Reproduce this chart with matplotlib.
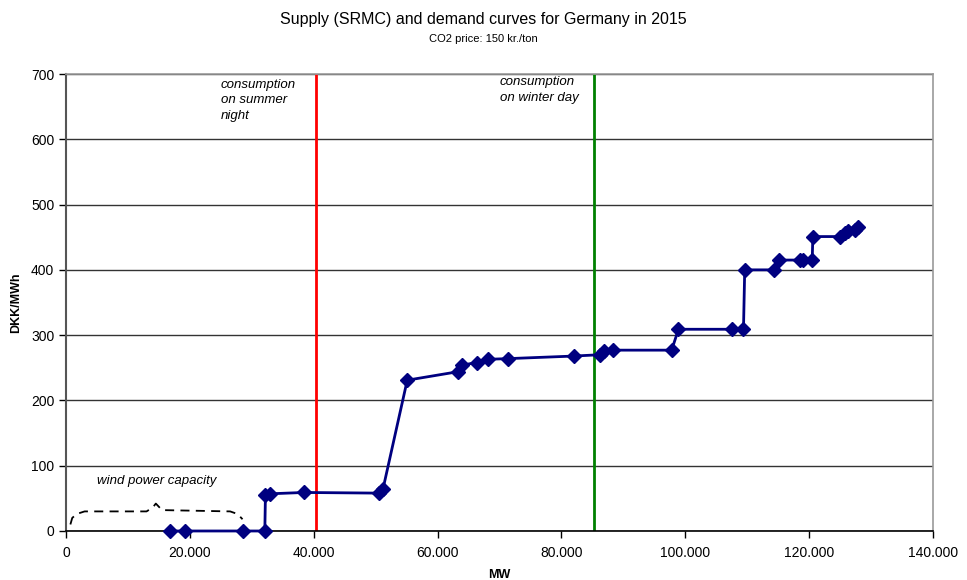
import matplotlib
matplotlib.use("Agg")
import matplotlib.pyplot as plt
from matplotlib.ticker import FuncFormatter, MultipleLocator

plt.rcParams['font.family'] = ['Liberation Sans', 'DejaVu Sans']

# Supply curve (MW, DKK/MWh)
mw = [16800, 19200, 28600, 32100, 32200, 33000, 38400, 50600, 51200, 55100,
      63300, 63900, 66300, 68100, 71300, 82100, 86200, 86800, 88300, 97800,
      98900, 107600, 109400, 109600, 114400, 115200, 118500, 119000, 120500,
      120600, 125000, 125800, 126300, 127400, 127900]
price = [0, 0, 0, 0, 55, 57, 59, 58, 65, 231,
         244, 254, 258, 263, 264, 268, 270, 275, 277, 277,
         309, 309, 309, 400, 400, 415, 415, 415, 415,
         451, 451, 456, 460, 461, 465]

summer_night = 40400
winter_day = 85300

# wind capacity brace (data coords)
brace_x = [700, 1000, 1700, 3000, 13000, 14000, 14500, 15500, 26500, 27700, 28500]
brace_y = [10, 20, 26, 30, 30, 36, 42, 32, 30, 26, 18]

fig = plt.figure(figsize=(9.67, 5.8), dpi=100)
ax = fig.add_axes([0.0683, 0.0845, 0.8965, 0.7879])

ax.set_xlim(0, 140000)
ax.set_ylim(0, 700)
ax.yaxis.set_major_locator(MultipleLocator(100))
ax.xaxis.set_major_locator(MultipleLocator(20000))
ax.xaxis.set_major_formatter(FuncFormatter(lambda v, p: f"{int(v):,}".replace(",", ".")))
ax.grid(axis='y', color='#333333', linewidth=1.0)
ax.set_axisbelow(True)

for s in ['top', 'right']:
    ax.spines[s].set_color('#999999')
    ax.spines[s].set_linewidth(1.2)
ax.spines['left'].set_color('#555555')
ax.spines['left'].set_linewidth(1.5)
ax.spines['bottom'].set_color('black')
ax.spines['bottom'].set_linewidth(1.2)
ax.tick_params(axis='both', direction='out', length=5, width=1, labelsize=10, colors='black')
ax.tick_params(axis='x', pad=6)

ax.axvline(summer_night, color='#ff0000', linewidth=2)
ax.axvline(winter_day, color='#008000', linewidth=2)

ax.plot(mw, price, color='#000080', linewidth=2, marker='D', markersize=7,
        markeredgecolor='#000080', markerfacecolor='#000080', zorder=5, clip_on=False)

ax.plot(brace_x, brace_y, color='black', linestyle=(0, (5, 3.5)), linewidth=1.3)

ax.text(5000, 76, 'wind power capacity', fontsize=9.5, style='italic', ha='left', va='center')
ax.text(25000, 693, 'consumption\non summer\nnight', fontsize=9.5, style='italic',
        ha='left', va='top', linespacing=1.4)
ax.text(70000, 697, 'consumption\non winter day', fontsize=9.5, style='italic',
        ha='left', va='top', linespacing=1.4)

ax.set_xlabel('MW', fontsize=9, fontweight='bold', labelpad=6)
ax.set_ylabel('DKK/MWh', fontsize=9, fontweight='bold', labelpad=6)

fig.text(0.5, 0.966, 'Supply (SRMC) and demand curves for Germany in 2015', fontsize=11.5,
         ha='center', va='center')
fig.text(0.5, 0.932, 'CO2 price: 150 kr./ton', fontsize=8, ha='center', va='center')

fig.savefig('out.png', dpi=100)
